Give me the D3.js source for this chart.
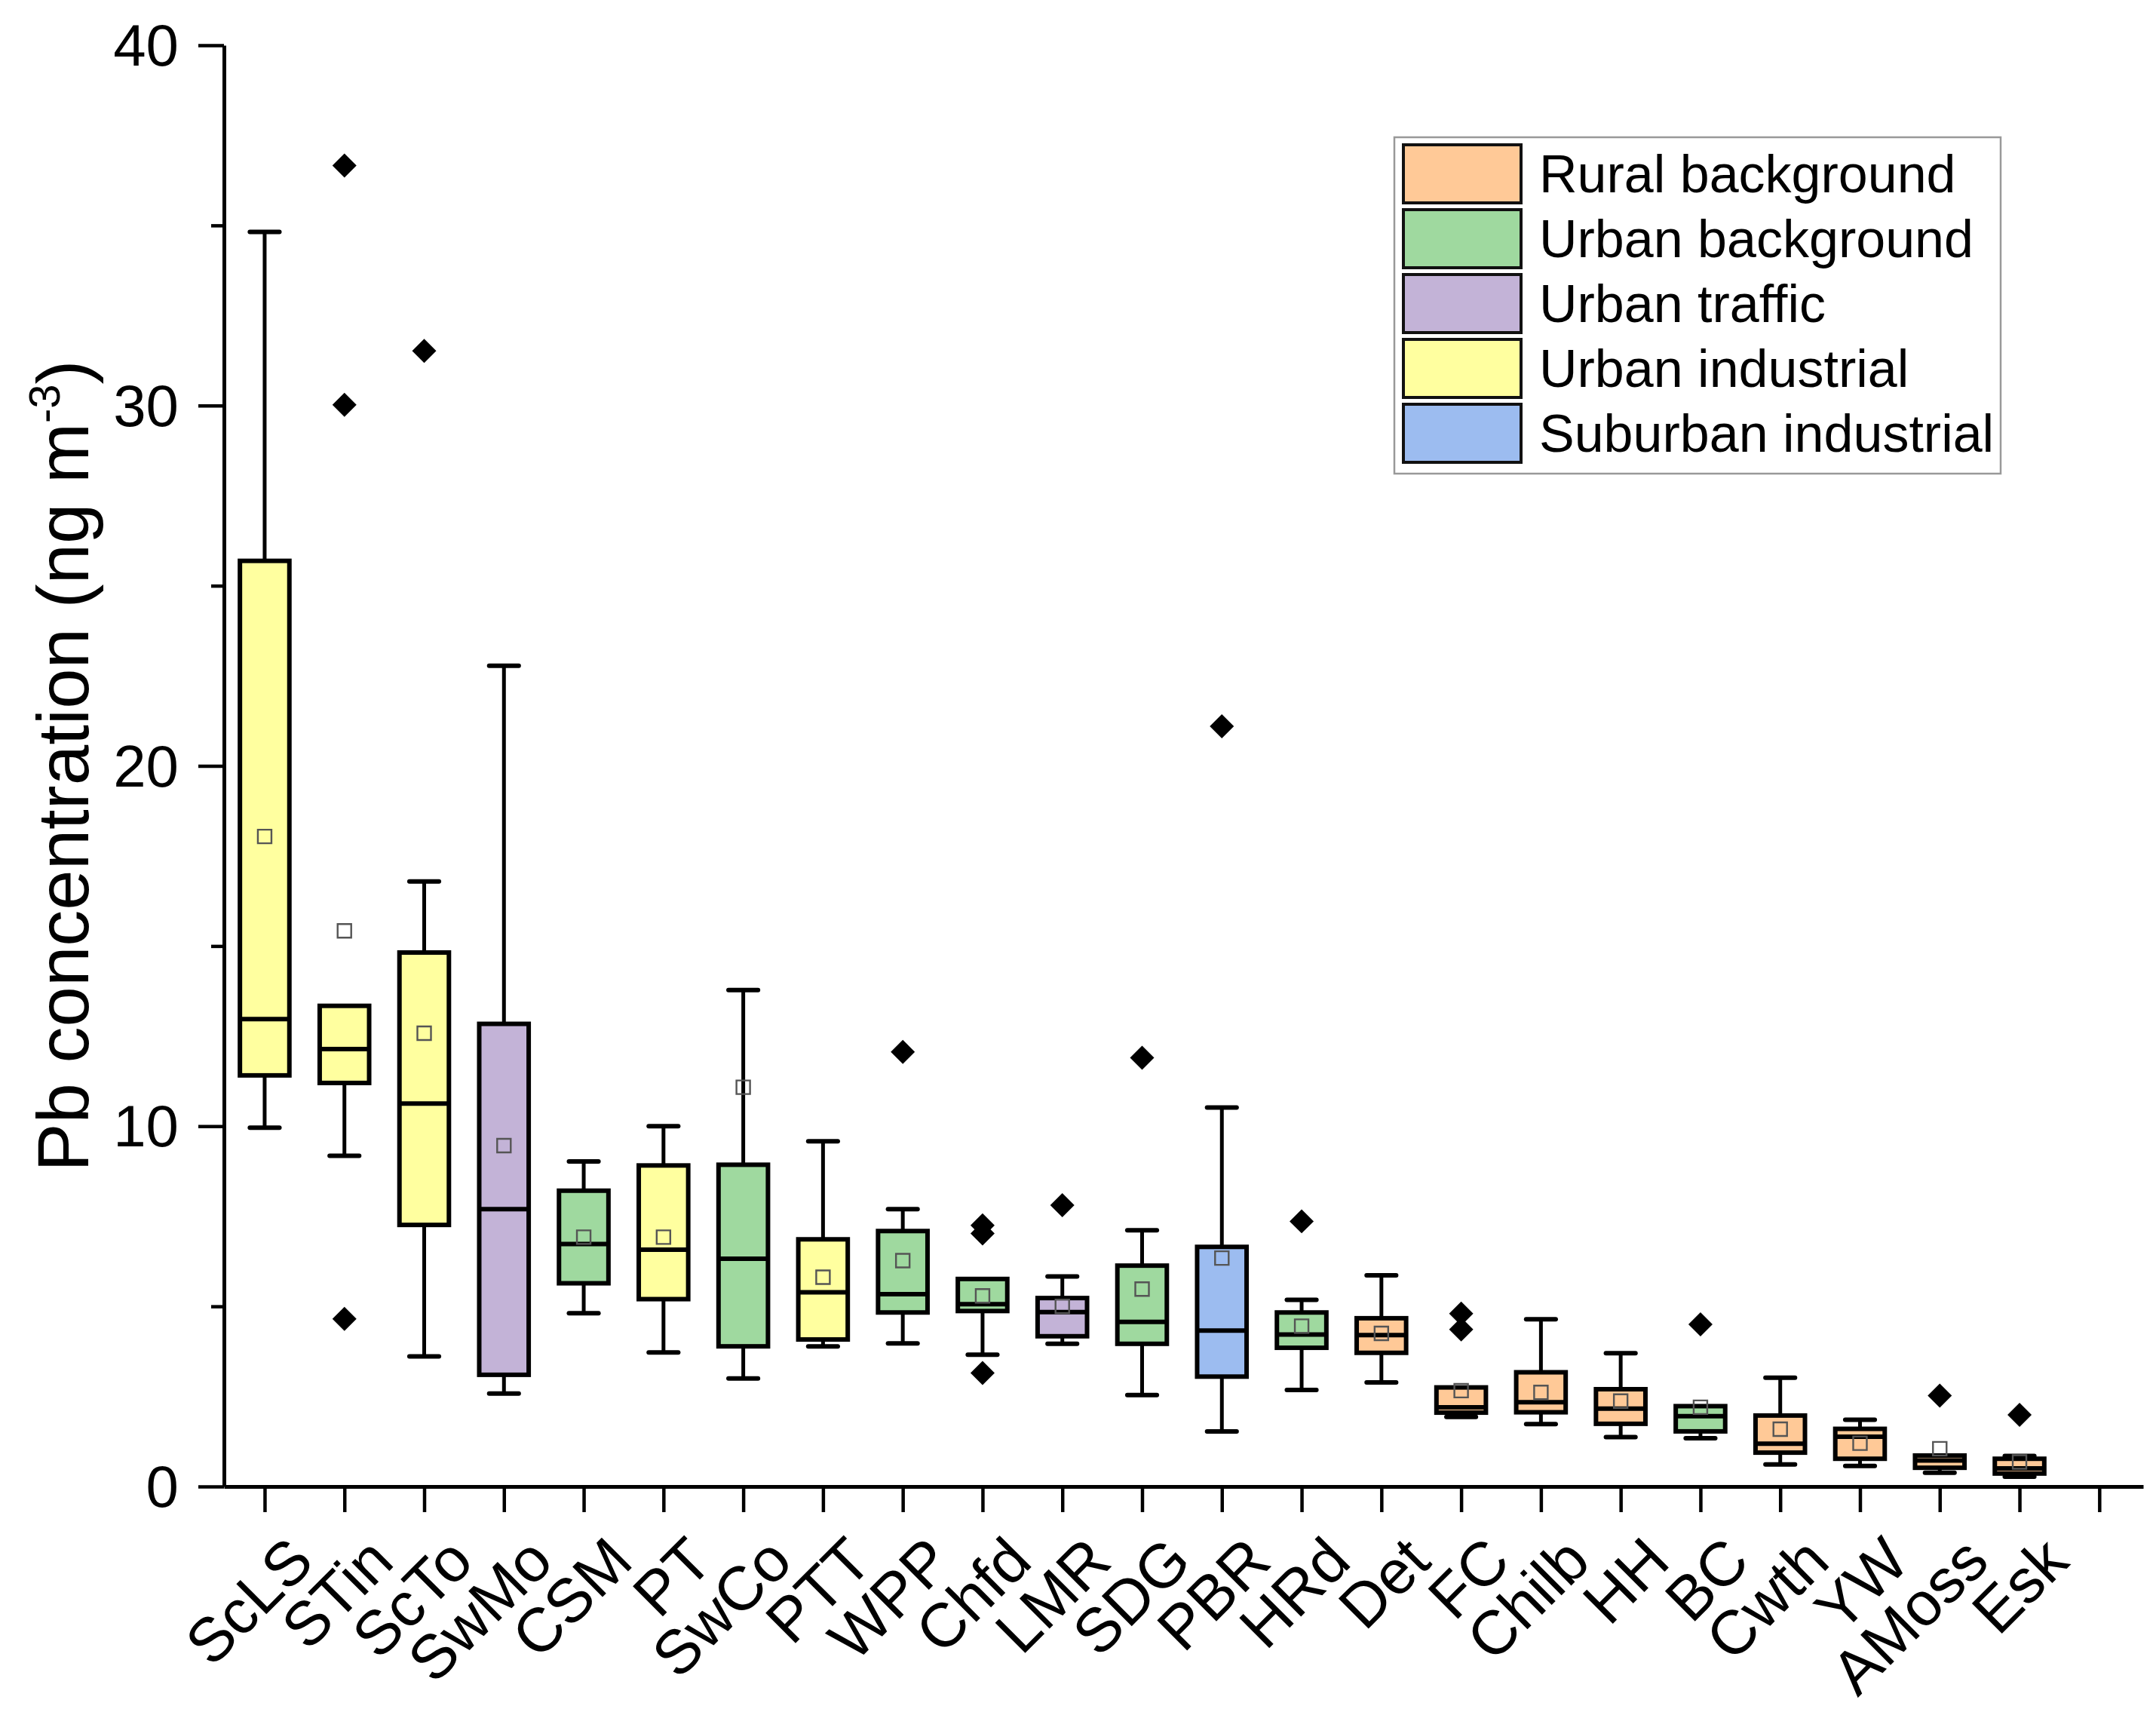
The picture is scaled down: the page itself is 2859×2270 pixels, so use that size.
<!DOCTYPE html>
<html>
<head>
<meta charset="utf-8">
<script src="https://cdn.jsdelivr.net/npm/d3@7"></script>
<style>
  html, body { margin: 0; padding: 0; background: #fff; }
  svg { display: block; }
  text { font-family: "Liberation Sans", Arial, sans-serif; fill: #000; }
</style>
</head>
<body>
<svg id="chart" width="2859" height="2270"></svg>
<script>
// ---------- data ----------
const categories = ["ScLS","STin","ScTo","SwMo","CSM","PT","SwCo","PTT","WPP","Chfd","LMR","SDG","PBR","HRd","Det","FC","Chilb","HH","BC","Cwth","YW","AMoss","Esk"];
const siteTypes  = ["Rural background","Urban background","Urban traffic","Urban industrial","Suburban industrial"];
const typeColors = ["#FFC997","#9FD99F","#C3B3D7","#FFFF9F","#9CBCF0"];
const siteType   = ["Urban industrial","Urban industrial","Urban industrial","Urban traffic","Urban background","Urban industrial","Urban background","Urban industrial","Urban background","Urban background","Urban traffic","Urban background","Suburban industrial","Urban background","Rural background","Rural background","Rural background","Rural background","Urban background","Rural background","Rural background","Rural background","Rural background"];
const whiskerLow  = [9.96, 9.18, 3.61, 2.58, 4.81, 3.72, 3.00, 3.89, 3.97, 3.66, 3.96, 2.54, 1.53, 2.68, 2.89, 1.93, 1.73, 1.37, 1.34, 0.61, 0.57, 0.38, 0.27];
const q1          = [11.41, 11.20, 7.26, 3.10, 5.64, 5.20, 3.89, 4.08, 4.83, 4.87, 4.17, 3.96, 3.05, 3.85, 3.71, 2.05, 2.06, 1.74, 1.53, 0.94, 0.77, 0.52, 0.36];
const median      = [12.97, 12.14, 10.63, 7.70, 6.73, 6.57, 6.32, 5.39, 5.34, 5.06, 4.84, 4.57, 4.33, 4.22, 4.20, 2.20, 2.34, 2.16, 1.95, 1.19, 1.38, 0.72, 0.50];
const q3          = [25.69, 13.34, 14.82, 12.84, 8.21, 8.91, 8.93, 6.86, 7.09, 5.76, 5.23, 6.13, 6.65, 4.83, 4.67, 2.75, 3.17, 2.70, 2.23, 1.97, 1.60, 0.86, 0.77];
const whiskerHigh = [34.82, 13.34, 16.79, 22.78, 9.02, 10.00, 13.78, 9.58, 7.70, 5.76, 5.83, 7.11, 10.52, 5.18, 5.86, 2.75, 4.64, 3.70, 2.23, 3.02, 1.85, 0.86, 0.85];
const means       = [18.04, 15.42, 12.58, 9.46, 6.92, 6.92, 11.08, 5.81, 6.27, 5.29, 5.00, 5.48, 6.34, 4.45, 4.25, 2.66, 2.61, 2.37, 2.20, 1.59, 1.20, 1.05, 0.68];
const outliers    = [[], [36.66, 30.02, 4.65], [31.52], [], [], [], [], [], [12.06], [7.25, 7.02, 3.15], [7.81], [11.90], [21.10], [7.36], [], [4.80, 4.36], [], [], [4.50], [], [], [2.52], [1.99]];
const yMajorTicks = [0, 10, 20, 30, 40];
const yMinorTicks = [5, 15, 25, 35];
const xTickPositions = d3.range(1, 25); // 24 tick slots, last one empty
const yTitle = "Pb concentration (ng m";
const yTitleSup = "-3";
const yTitleEnd = ")";

// ---------- layout ----------
const svg = d3.select("#chart");
svg.append("rect").attr("width", 2859).attr("height", 2270).attr("fill", "#fff");

const x = d3.scaleLinear().domain([0.49, 24.55]).range([297, 2842]);
const y = d3.scaleLinear().domain([0, 40]).range([1971, 60]);
const color = d3.scaleOrdinal().domain(siteTypes).range(typeColors);

const unit = x(1) - x(0);
const boxW = unit * 0.62;
const capW = unit * 0.37;

const data = categories.map((c, i) => ({
  name: c, pos: i + 1, type: siteType[i],
  lo: whiskerLow[i], q1: q1[i], med: median[i], q3: q3[i], hi: whiskerHigh[i],
  mean: means[i], out: outliers[i]
}));

// ---------- axes ----------
const yAxis = svg.append("g")
  .attr("transform", `translate(${x.range()[0]},0)`)
  .call(d3.axisLeft(y).tickValues(yMajorTicks).tickSize(34).tickSizeOuter(0).tickPadding(26).tickFormat(d3.format("d")));
yAxis.select(".domain").attr("stroke", "#000").attr("stroke-width", 5);
yAxis.selectAll(".tick line").attr("stroke", "#000").attr("stroke-width", 4.5);
yAxis.selectAll(".tick text").attr("font-size", 78).attr("font-family", "Liberation Sans, Arial, sans-serif").attr("dy", "0.34em");

const yMinor = svg.append("g")
  .attr("transform", `translate(${x.range()[0]},0)`)
  .call(d3.axisLeft(y).tickValues(yMinorTicks).tickSize(17).tickSizeOuter(0).tickFormat(""));
yMinor.select(".domain").remove();
yMinor.selectAll(".tick line").attr("stroke", "#000").attr("stroke-width", 4.5);

const xAxis = svg.append("g")
  .attr("transform", `translate(0,${y(0)})`)
  .call(d3.axisBottom(x).tickValues(xTickPositions).tickSize(34).tickSizeOuter(0)
        .tickFormat(d => categories[d - 1] || ""));
xAxis.select(".domain").attr("stroke", "#000").attr("stroke-width", 5);
xAxis.selectAll(".tick line").attr("stroke", "#000").attr("stroke-width", 4.5);
xAxis.selectAll(".tick text")
  .attr("font-size", 82)
  .attr("font-family", "Liberation Sans, Arial, sans-serif")
  .attr("text-anchor", "end")
  .attr("x", 0).attr("y", 0).attr("dy", 0)
  .attr("transform", "translate(68,103) rotate(-45)");

// y title
const yt = svg.append("text")
  .attr("transform", `translate(117,${(y(0) + y(40)) / 2}) rotate(-90)`)
  .attr("text-anchor", "middle")
  .attr("font-size", 96);
yt.append("tspan").text(yTitle);
yt.append("tspan").attr("font-size", 58).attr("dy", -38).text(yTitleSup);
yt.append("tspan").attr("dy", 38).text(yTitleEnd);

// ---------- boxes ----------
const g = svg.append("g");
const bx = g.selectAll("g.box").data(data).join("g").attr("class", "box");

// whiskers
bx.append("line")
  .attr("x1", d => x(d.pos)).attr("x2", d => x(d.pos))
  .attr("y1", d => y(d.hi)).attr("y2", d => y(d.q3))
  .attr("stroke", "#000").attr("stroke-width", 5);
bx.append("line")
  .attr("x1", d => x(d.pos)).attr("x2", d => x(d.pos))
  .attr("y1", d => y(d.q1)).attr("y2", d => y(d.lo))
  .attr("stroke", "#000").attr("stroke-width", 5);
// caps
bx.filter(d => d.hi > d.q3).append("line")
  .attr("x1", d => x(d.pos) - capW / 2).attr("x2", d => x(d.pos) + capW / 2)
  .attr("y1", d => y(d.hi)).attr("y2", d => y(d.hi))
  .attr("stroke", "#000").attr("stroke-width", 6).attr("stroke-linecap", "round");
bx.filter(d => d.lo < d.q1).append("line")
  .attr("x1", d => x(d.pos) - capW / 2).attr("x2", d => x(d.pos) + capW / 2)
  .attr("y1", d => y(d.lo)).attr("y2", d => y(d.lo))
  .attr("stroke", "#000").attr("stroke-width", 6).attr("stroke-linecap", "round");
// box
bx.append("rect")
  .attr("x", d => x(d.pos) - boxW / 2).attr("width", boxW)
  .attr("y", d => y(d.q3)).attr("height", d => y(d.q1) - y(d.q3))
  .attr("fill", d => color(d.type))
  .attr("stroke", "#000").attr("stroke-width", 6);
// median
bx.append("line")
  .attr("x1", d => x(d.pos) - boxW / 2).attr("x2", d => x(d.pos) + boxW / 2)
  .attr("y1", d => y(d.med)).attr("y2", d => y(d.med))
  .attr("stroke", "#000").attr("stroke-width", 6);
// mean
bx.append("path")
  .attr("d", d3.symbol(d3.symbolSquare, 324)())
  .attr("transform", d => `translate(${x(d.pos)},${y(d.mean)})`)
  .attr("fill", "none").attr("stroke", "#555").attr("stroke-width", 2.4);
// outliers
bx.selectAll("path.out").data(d => d.out.map(v => ({ pos: d.pos, v })))
  .join("path").attr("class", "out")
  .attr("d", d3.symbol(d3.symbolSquare, 512)())
  .attr("transform", d => `translate(${x(d.pos)},${y(d.v)}) rotate(45)`)
  .attr("fill", "#000");

// ---------- legend ----------
const lg = svg.append("g");
lg.append("rect").attr("x", 1849).attr("y", 182).attr("width", 804).attr("height", 446)
  .attr("fill", "#fff").attr("stroke", "#999").attr("stroke-width", 2.5);
const li = lg.selectAll("g.item").data(siteTypes).join("g").attr("class", "item")
  .attr("transform", (d, i) => `translate(1861,${192 + i * 86})`);
li.append("rect").attr("width", 156).attr("height", 77)
  .attr("fill", d => color(d)).attr("stroke", "#111").attr("stroke-width", 4);
li.append("text").attr("x", 180).attr("y", 38.5).attr("dy", "0.35em")
  .attr("font-size", 70).text(d => d);
</script>
</body>
</html>
